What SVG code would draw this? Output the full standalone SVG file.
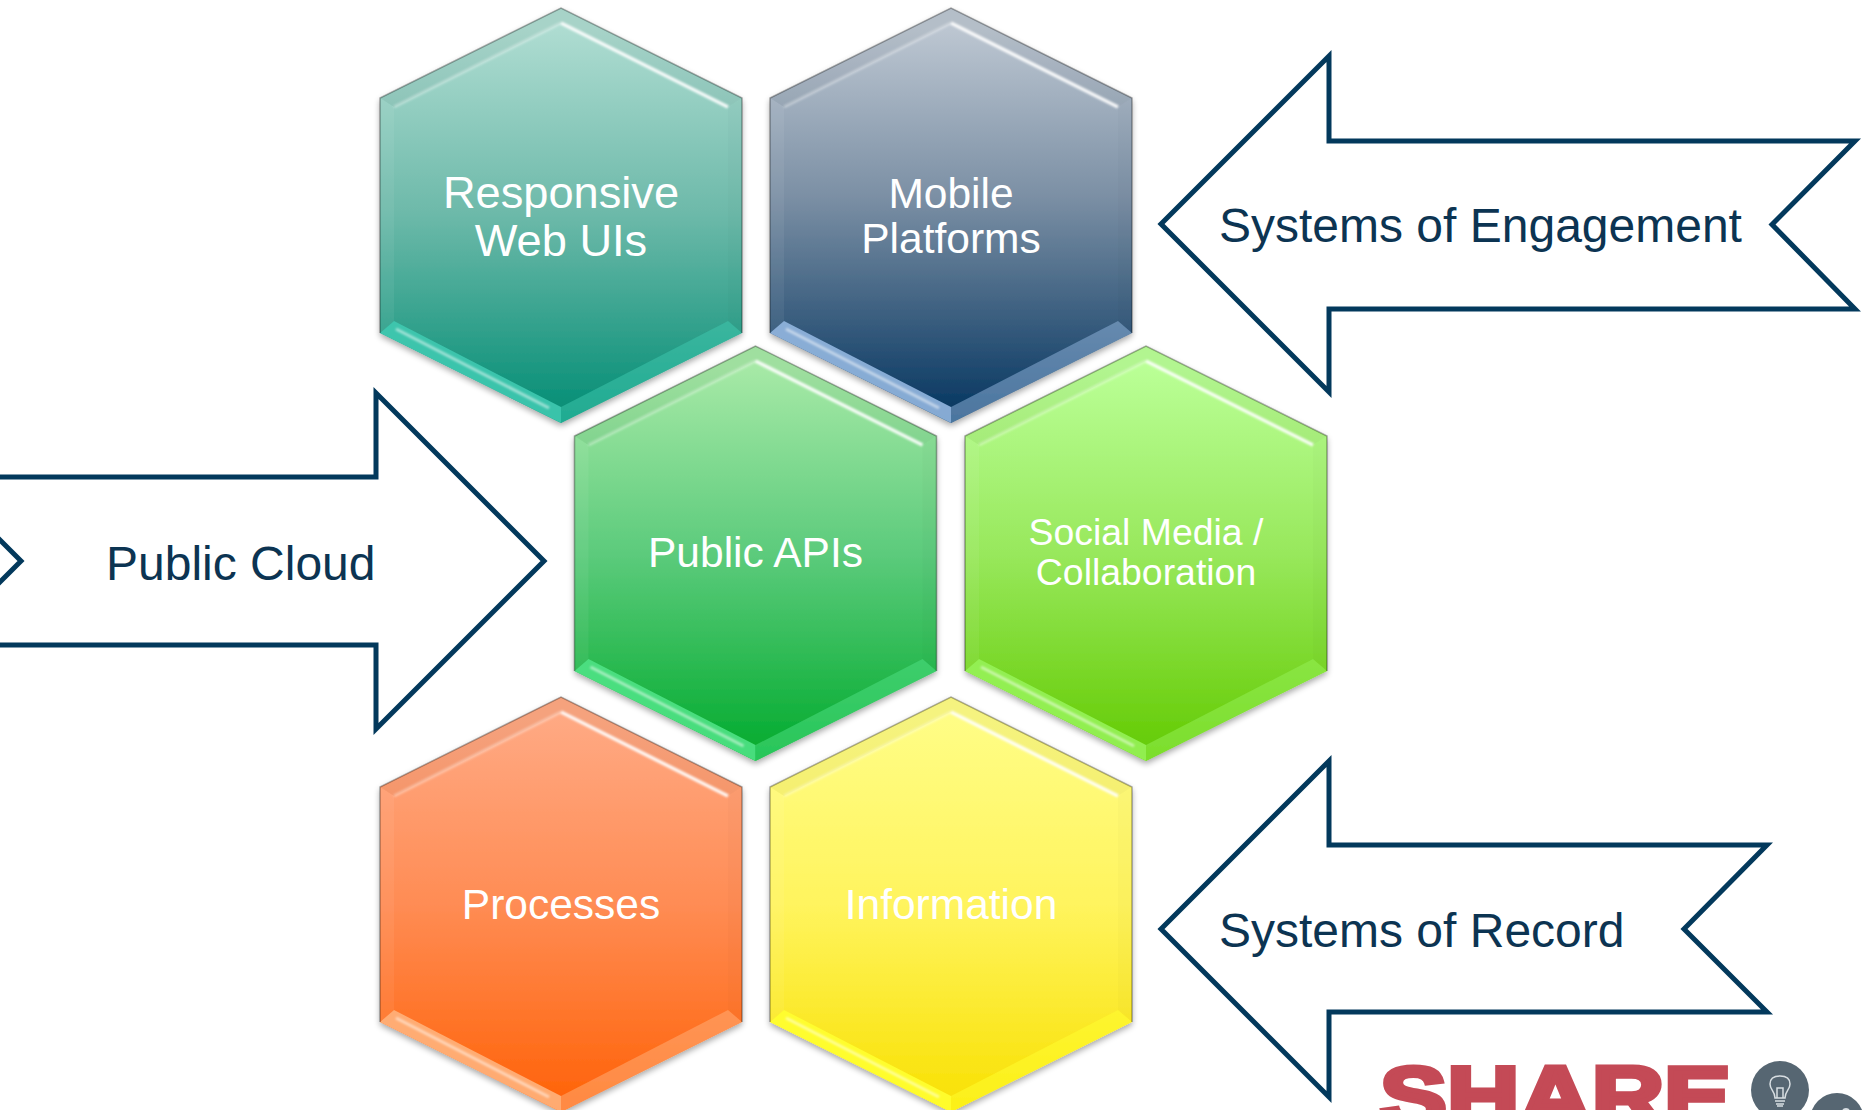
<svg xmlns="http://www.w3.org/2000/svg" xmlns:xlink="http://www.w3.org/1999/xlink" width="1872" height="1110" viewBox="0 0 1872 1110">
<style>
text{font-family:"Liberation Sans",Arial,sans-serif}
.h{fill:#fff;text-anchor:middle}
.a{fill:#fff;stroke:#03395c;stroke-width:5;stroke-miterlimit:12}
.o{fill:none}
.at{fill:#0c3452;font-size:48px}
</style>
<defs>
<filter id="sh" x="-10%" y="-10%" width="120%" height="120%"><feGaussianBlur in="SourceAlpha" stdDeviation="3"/><feOffset dx="0" dy="3"/><feComponentTransfer><feFuncA type="linear" slope=".35"/></feComponentTransfer><feMerge><feMergeNode/><feMergeNode in="SourceGraphic"/></feMerge></filter>
<filter id="soft" x="-5%" y="-20%" width="110%" height="140%"><feGaussianBlur stdDeviation="0.9"/></filter>
<linearGradient id="gTeal" x1="0" y1="0" x2="0" y2="1"><stop offset=".05" stop-color="#aedcd1"/><stop offset=".5" stop-color="#6cb9a9"/><stop offset="1" stop-color="#008c73"/></linearGradient>
<linearGradient id="gSlate" x1="0" y1="0" x2="0" y2="1"><stop offset=".05" stop-color="#bcc6d1"/><stop offset=".45" stop-color="#7c90a5"/><stop offset="1" stop-color="#02335e"/></linearGradient>
<linearGradient id="gGreen" x1="0" y1="0" x2="0" y2="1"><stop offset=".05" stop-color="#a6e9a6"/><stop offset=".5" stop-color="#5ccb7c"/><stop offset="1" stop-color="#00aa2c"/></linearGradient>
<linearGradient id="gLime" x1="0" y1="0" x2="0" y2="1"><stop offset=".05" stop-color="#baff96"/><stop offset=".5" stop-color="#98e85c"/><stop offset="1" stop-color="#62ca00"/></linearGradient>
<linearGradient id="gOrange" x1="0" y1="0" x2="0" y2="1"><stop offset=".05" stop-color="#ffa983"/><stop offset=".5" stop-color="#ff8c54"/><stop offset="1" stop-color="#ff6106"/></linearGradient>
<linearGradient id="gYellow" x1="0" y1="0" x2="0" y2="1"><stop offset=".05" stop-color="#fffd85"/><stop offset=".5" stop-color="#fff45e"/><stop offset="1" stop-color="#f8e000"/></linearGradient>
<path id="hex" d="M0 0L181 90V325L0 415L-181 325V90Z"/>
<g id="bevel">
<path d="M0 0L181 90L167 99L0 15L-167 99L-181 90Z" fill="#000" fill-opacity=".04"/>
<path d="M-181 90L-167 99V313L-181 325Z" fill="#fff" fill-opacity=".06"/>
<path d="M181 90L167 99V313L181 325Z" fill="#000" fill-opacity=".015"/>
<path d="M-181 325L-167 313L0 399V415Z" fill="currentColor" fill-opacity=".9"/>
<path d="M181 325L167 313L0 399V415Z" fill="currentColor" fill-opacity=".5"/>
<path d="M-165 321L-12 400" stroke="#fff" stroke-opacity=".5" stroke-width="3" fill="none" filter="url(#soft)"/>
<path d="M-167 99L0 15" stroke="#fff" stroke-opacity=".35" stroke-width="3" fill="none" filter="url(#soft)"/>
<path d="M0 15L167 99" stroke="#fff" stroke-opacity=".9" stroke-width="3.500" fill="none" filter="url(#soft)"/>
<path d="M-181 325V90L0 0L181 90V325" stroke="#000" stroke-opacity=".32" stroke-width="1.500" fill="none"/>
</g>
</defs>
<rect width="1872" height="1110" fill="#fff"/>

<g id="connectors"/>

<g id="arrow-engagement">
<path class="a" d="M1161 224L1329 56V141H1855L1772 224.500L1855 309H1329V392Z"/>
<text class="at" x="1219" y="242">Systems of Engagement</text>
</g>
<g id="arrow-record">
<path class="a" d="M1161 929L1329 761V845H1767L1684 929L1767 1012H1329V1097Z"/>
<text class="at" x="1219" y="947">Systems of Record</text>
</g>
<g id="arrow-public-cloud">
<path class="a o" d="M-10 477H376V393L544 561L376 729V645H-10"/>
<path class="a o" d="M-10 530L21 561L-10 592"/>
<text class="at" x="106" y="580">Public Cloud</text>
</g>

<g id="hex-responsive" transform="translate(561 8)" color="#3fc9b0">
<use xlink:href="#hex" fill="url(#gTeal)" filter="url(#sh)"/><use xlink:href="#bevel"/>
<text class="h" font-size="45.200" y="200">Responsive</text>
<text class="h" font-size="45.200" y="248">Web UIs</text>
</g>
<g id="hex-mobile" transform="translate(951 8)" color="#93b7e0">
<use xlink:href="#hex" fill="url(#gSlate)" filter="url(#sh)"/><use xlink:href="#bevel"/>
<text class="h" font-size="42.500" y="200">Mobile</text>
<text class="h" font-size="42.500" y="245">Platforms</text>
</g>
<g id="hex-apis" transform="translate(755.500 346)" color="#4fe285">
<use xlink:href="#hex" fill="url(#gGreen)" filter="url(#sh)"/><use xlink:href="#bevel"/>
<text class="h" font-size="42.500" y="221">Public APIs</text>
</g>
<g id="hex-social" transform="translate(1146 346)" color="#96f258">
<use xlink:href="#hex" fill="url(#gLime)" filter="url(#sh)"/><use xlink:href="#bevel"/>
<text class="h" font-size="37.400" y="199">Social Media /</text>
<text class="h" font-size="37.400" y="239">Collaboration</text>
</g>
<g id="hex-processes" transform="translate(561 697)" color="#ffb27c">
<use xlink:href="#hex" fill="url(#gOrange)" filter="url(#sh)"/><use xlink:href="#bevel"/>
<text class="h" font-size="42.500" y="222">Processes</text>
</g>
<g id="hex-information" transform="translate(951 697)" color="#ffff30">
<use xlink:href="#hex" fill="url(#gYellow)" filter="url(#sh)"/><use xlink:href="#bevel"/>
<text class="h" font-size="42.500" y="222">Information</text>
</g>

<g id="share-logo">
<text x="1380" y="1125" font-size="84" font-weight="bold" fill="#c44a56" stroke="#c44a56" stroke-width="5" textLength="351" lengthAdjust="spacingAndGlyphs">SHARE</text>
<circle cx="1780" cy="1090" r="29" fill="#566672"/>
<circle cx="1837" cy="1120" r="27" fill="#566672"/>
<g fill="none" stroke="#d8dee2" stroke-width="1.500">
<path d="M1775 1098C1775 1091 1770 1090 1770 1084C1770 1078 1775 1076 1780 1076C1785 1076 1790 1078 1790 1084C1790 1090 1785 1091 1785 1098Z"/>
<path d="M1777 1098V1088H1783V1098M1775 1101H1785M1776 1104H1784M1777 1106H1783"/>
</g>
<circle cx="1846" cy="1112" r="4" fill="#d8dee2"/>
</g>
</svg>
